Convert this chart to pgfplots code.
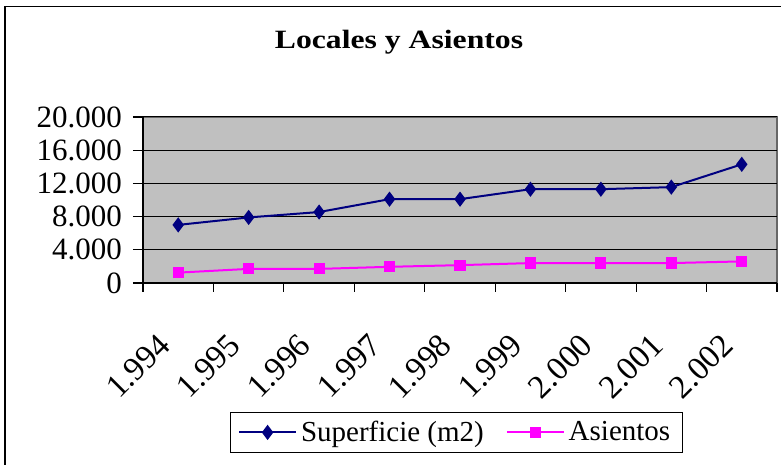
\documentclass[border=0pt]{standalone}
\usepackage{fontspec}
\setmainfont{Liberation Serif}
\newfontfamily\titlefont{Liberation Serif}[FakeStretch=1.2]
\usepackage{pgfplots}
\pgfplotsset{compat=1.18}

\definecolor{plotgray}{HTML}{C0C0C0}
\definecolor{navyser}{HTML}{000080}
\definecolor{magser}{HTML}{FF00FF}

\begin{document}
\begin{tikzpicture}
  \useasboundingbox (0,0) rectangle (390.5pt,232.5pt);
  % chart area frame (cut off at right and bottom as in the reference)
  \draw[line width=0.6pt] (2.5pt,-5pt) rectangle (400pt,229.2pt);
  \node[font=\titlefont\fontsize{13.2}{15}\selectfont\bfseries] at (199.5pt,211.5pt)
    {Locales y Asientos};
  \begin{axis}[
    at={(71.5pt,91pt)}, anchor=south west,
    scale only axis, width=317pt, height=83pt,
    xmin=-0.5, xmax=8.5, ymin=0, ymax=20000,
    axis x line*=bottom, axis y line*=left,
    axis line style={black, line width=0.6pt},
    axis background/.style={fill=plotgray, draw=gray!80!black, line width=0.6pt},
    ytick={0,4000,...,20000}, scaled y ticks=false,
    /pgf/number format/1000 sep={.},
    /pgf/number format/assume math mode=true,
    ymajorgrids, major grid style={black, line width=0.5pt},
    tick align=outside, major tick length=5pt,
    tick style={black, line width=0.6pt},
    xtick={0,...,8},
    xticklabels={1.994,1.995,1.996,1.997,1.998,1.999,2.000,2.001,2.002},
    major x tick style={draw=none},
    minor xtick={-0.5,0.5,...,8.5},
    minor tick length=4.5pt,
    yticklabel style={font=\fontsize{15.5}{17}\selectfont, xshift=-2pt},
    xticklabel style={font=\fontsize{16.5}{18}\selectfont,
      xshift=-11pt, rotate=45, anchor=north east},
    xticklabel shift=14.5pt,
    legend style={at={(0.494,-0.90)}, anchor=center, draw=black,
      line width=0.6pt, legend columns=2,
      font=\fontsize{14.5}{16}\selectfont, inner ysep=2pt, inner xsep=4pt,
      /tikz/every even column/.append style={column sep=9pt}},
    legend image code/.code={
      \draw[mark repeat=2, mark phase=2]
        plot coordinates {(0cm,0cm) (0.5cm,0cm) (1.0cm,0cm)};},
  ]
    \addplot[navyser, line width=1pt, mark=diamond*, mark size=3pt]
      coordinates {(0,7000)(1,7900)(2,8550)(3,10100)(4,10100)
                   (5,11300)(6,11300)(7,11550)(8,14300)};
    \addlegendentry{Superficie (m2)}
    \addplot[magser, line width=1pt, mark=square*, mark size=2.3pt]
      coordinates {(0,1250)(1,1700)(2,1700)(3,1950)(4,2150)
                   (5,2400)(6,2400)(7,2400)(8,2600)};
    \addlegendentry{Asientos}
  \end{axis}
\end{tikzpicture}
\end{document}
